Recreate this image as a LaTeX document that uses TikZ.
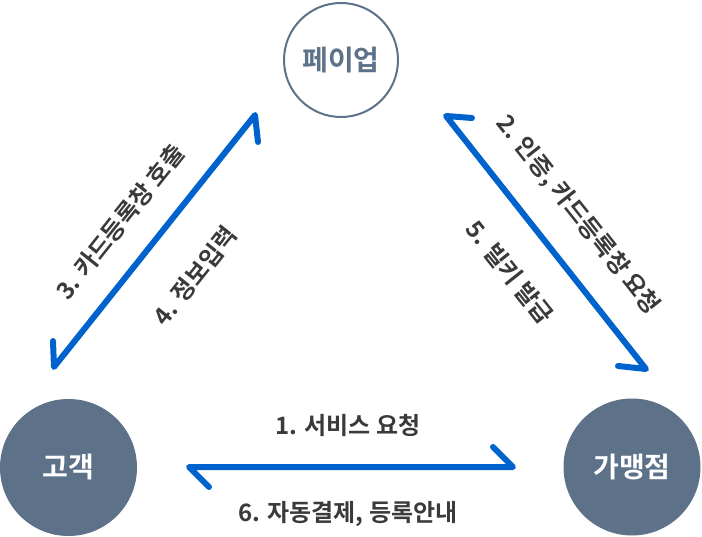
\documentclass[tikz,border=0pt]{standalone}
\usepackage{fontspec}
\setmainfont{Noto Sans CJK KR}[BoldFont={Noto Sans CJK KR Bold}]
\definecolor{slate}{HTML}{5D7289}
\definecolor{arrowblue}{HTML}{0062CC}
\definecolor{labelgray}{HTML}{3A3A3A}
\begin{document}
\begin{tikzpicture}[x=1pt,y=-1pt,
  hub/.style={circle,draw=slate,line width=2pt,fill=white,minimum size=114pt,inner sep=0pt,text=slate,font=\bfseries\fontsize{28}{30}\selectfont},
  party/.style={circle,fill=slate,minimum size=137pt,inner sep=0pt,text=white,font=\bfseries\fontsize{28}{30}\selectfont},
  flow/.style={draw=arrowblue,line width=6pt,line cap=round,line join=round},
  lbl/.style={text=labelgray,font=\bfseries\fontsize{24}{26}\selectfont,inner sep=0pt}]
\useasboundingbox (0,0) rectangle (702,537);
\node[hub] (payup) at (341,60) {페이업};
\node[party] (customer) at (68.5,467.5) {고객};
\node[party] (merchant) at (632,467) {가맹점};
% left arrow (customer <-> payup)
\coordinate (lTop) at (255,115);
\coordinate (lTopBarb) at (258,142);
\coordinate (lBot) at (54,367);
\coordinate (lBotBarb) at (53,341);
\draw[flow] (lTopBarb) -- (lTop) -- (lBot) -- (lBotBarb);
% right arrow (payup <-> merchant)
\coordinate (rTop) at (446,116);
\coordinate (rTopBarb) at (472,118);
\coordinate (rBot) at (646,369);
\coordinate (rBotBarb) at (618,366);
\draw[flow] (rTopBarb) -- (rTop) -- (rBot) -- (rBotBarb);
% bottom arrow (customer <-> merchant)
\coordinate (bLeft) at (189,467);
\coordinate (bLeftBarb) at (209,487);
\coordinate (bRight) at (513,467);
\coordinate (bRightBarb) at (493,447);
\draw[flow] (bLeftBarb) -- (bLeft) -- (bRight) -- (bRightBarb);
% labels
\node[lbl] (l1) at (348,426) {1. 서비스 요청};
\node[lbl] (l6) at (348,514) {6. 자동결제, 등록안내};
\node[lbl,rotate=51.4] (l3) at (120,222) {3. 카드등록창 호출};
\node[lbl,rotate=51.4] (l4) at (195,276) {4. 정보입력};
\node[lbl,rotate=-51.6] (l2) at (578,215) {2. 인증, 카드등록창 요청};
\node[lbl,rotate=-51.6] (l5) at (510,272) {5. 빌키 발급};
\end{tikzpicture}
\end{document}
